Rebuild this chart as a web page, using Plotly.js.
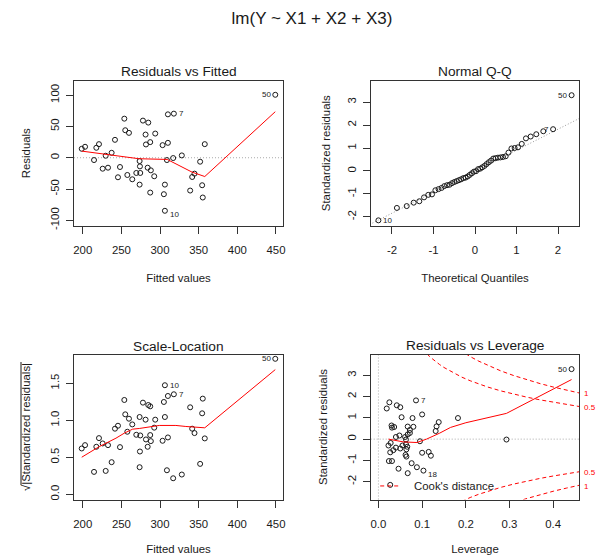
<!DOCTYPE html>
<html><head><meta charset="utf-8">
<script src="https://cdn.plot.ly/plotly-3.0.1.min.js"></script>
<style>html,body{margin:0;padding:0;background:#fff;}#chart{width:597px;height:558px;}</style>
</head><body><div id="chart"></div>
<script>
// ---- Residuals vs Fitted / Scale-Location (same fitted values) ----
const fittedValues = [198.7,203.0,214.6,217.6,221.0,225.8,229.7,232.7,237.4,241.7,245.6,248.2,253.8,255.0,257.7,259.8,264.1,269.3,273.6,274.0,274.4,273.6,277.9,281.3,281.8,284.8,284.0,287.3,288.1,287.3,292.5,293.8,303.3,306.3,305.0,306.3,308.9,310.2,310.2,317.0,317.9,328.2,339.0,341.6,344.6,351.9,354.5,355.3,357.9,449.1];
const residuals = [14.3,17.5,-3.7,15.9,21.7,-17.5,3.2,-15.9,7.9,28.6,-31.2,-14.8,62.4,43.9,-27.5,39.7,-34.4,-24.3,-5.3,-13.8,-24.3,-42.9,59.3,37.0,21.2,56.1,-15.9,24.9,-20.1,-55.6,-29.6,38.6,20.1,-42.9,-58.2,-84.7,-3.7,23.8,69.3,-0.5,70.4,3.7,-52.4,-30.7,-25.4,-6.3,-43.9,-63.5,21.7,100.5];
const sqrtAbsStdResiduals = [0.619,0.664,0.303,0.642,0.759,0.687,0.316,0.664,0.434,0.886,0.926,0.637,1.274,1.080,0.845,1.021,0.944,0.804,0.366,0.578,0.795,1.044,1.238,1.008,0.741,1.206,0.642,0.800,0.718,1.188,0.900,1.008,0.723,1.044,1.247,1.473,0.325,0.768,1.328,0.217,1.351,0.267,1.175,0.886,0.827,0.411,1.094,1.292,0.755,1.830];
const smoothFittedX = [198.7,229.7,251.2,272.7,309.3,341.5,357.9,449.1];
const smoothResidY = [10.6,5.3,1.0,-1.6,-2.7,-23.0,-30.0,73.5];
const smoothScaleX = [198.7,221.5,243.0,253.8,264.6,273.2,299.0,320.5,333.4,357.9,449.1];
const smoothScaleY = [0.501,0.645,0.758,0.826,0.880,0.889,0.930,0.930,0.916,0.898,1.684];

// ---- Normal Q-Q ----
const theoreticalQuantiles = [-2.326,-1.881,-1.645,-1.476,-1.341,-1.227,-1.126,-1.036,-0.954,-0.878,-0.806,-0.739,-0.674,-0.613,-0.553,-0.496,-0.440,-0.385,-0.332,-0.279,-0.228,-0.176,-0.126,-0.075,-0.025,0.025,0.075,0.126,0.176,0.228,0.279,0.332,0.385,0.440,0.496,0.553,0.613,0.674,0.739,0.806,0.878,0.954,1.036,1.126,1.227,1.341,1.476,1.645,1.881,2.326];
const qqStdResiduals = [-2.15,-1.61,-1.53,-1.38,-1.32,-1.15,-1.04,-1.02,-0.84,-0.79,-0.74,-0.66,-0.62,-0.60,-0.53,-0.48,-0.44,-0.40,-0.36,-0.31,-0.29,-0.24,-0.17,-0.10,-0.03,-0.01,0.08,0.10,0.16,0.22,0.30,0.38,0.45,0.54,0.56,0.58,0.59,0.61,0.64,0.80,0.98,1.00,1.03,1.18,1.42,1.50,1.60,1.73,1.82,3.30];
const qqLineX = [-2.6,2.6];
const qqLineY = [-2.389,2.369];

// ---- Residuals vs Leverage ----
const leverage = [0.019,0.025,0.042,0.050,0.086,0.053,0.100,0.030,0.031,0.036,0.067,0.080,0.072,0.072,0.048,0.040,0.061,0.063,0.095,0.028,0.023,0.055,0.063,0.040,0.034,0.050,0.064,0.027,0.062,0.064,0.100,0.115,0.120,0.024,0.031,0.076,0.088,0.046,0.067,0.103,0.027,0.131,0.133,0.138,0.182,0.293,0.442,0.078,0.066,0.067];
const levStdResiduals = [1.44,1.73,1.59,1.50,1.82,1.03,1.16,0.64,0.54,0.57,0.59,0.58,0.43,0.29,0.17,0.10,0.10,-0.02,-0.10,-0.18,-0.30,-0.30,-0.24,-0.40,-0.52,-0.44,-0.48,-0.62,-0.74,-0.82,-0.64,-0.60,-0.78,-1.03,-1.03,-1.13,-1.32,-1.39,-1.60,-1.48,-2.15,0.38,0.60,0.80,0.99,-0.02,3.29,0.99,-0.36,0.22];
const smoothLevX = [0.023,0.057,0.088,0.110,0.140,0.165,0.200,0.293,0.442];
const smoothLevY = [0.00,-0.13,-0.16,0.00,0.28,0.55,0.77,1.21,2.80];
const cookH = [0.09,0.10,0.11,0.12,0.13,0.14,0.15,0.17,0.19,0.21,0.23,0.25,0.28,0.31,0.34,0.37,0.40,0.43,0.46];
const cook05Upper = [4.50,4.243,4.023,3.830,3.659,3.505,3.367,3.125,2.920,2.743,2.588,2.449,2.268,2.110,1.970,1.845,1.732,1.628,1.532];
const cook05Lower = [-4.50,-4.243,-4.023,-3.830,-3.659,-3.505,-3.367,-3.125,-2.920,-2.743,-2.588,-2.449,-2.268,-2.110,-1.970,-1.845,-1.732,-1.628,-1.532];
const cook1Upper = [6.364,6.0,5.689,5.416,5.175,4.957,4.761,4.419,4.129,3.879,3.660,3.464,3.207,2.984,2.787,2.609,2.449,2.302,2.167];
const cook1Lower = [-6.364,-6.0,-5.689,-5.416,-5.175,-4.957,-4.761,-4.419,-4.129,-3.879,-3.660,-3.464,-3.207,-2.984,-2.787,-2.609,-2.449,-2.302,-2.167];

// ---- Tick labels ----
const fittedTicks = [200,250,300,350,400,450];
const fittedTickText = ['200','250','300','350','400','450'];
const residTicks = [-100,-50,0,50,100];
const residTickText = ['-100','-50','0','50','100'];
const qqXTicks = [-2,-1,0,1,2];
const qqXTickText = ['-2','-1','0','1','2'];
const stdTicks = [-2,-1,0,1,2,3];
const stdTickText = ['-2','-1','0','1','2','3'];
const scaleTicks = [0,0.5,1,1.5];
const scaleTickText = ['0.0','0.5','1.0','1.5'];
const levTicks = [0,0.1,0.2,0.3,0.4];
const levTickText = ['0.0','0.1','0.2','0.3','0.4'];

const F = 'Liberation Sans, Arial, Helvetica, sans-serif';
const RED = '#ff0000';
const INK = '#1a1a1a';

function pts(x, y, xa, ya) {
  return {type:'scatter', mode:'markers', x:x, y:y, xaxis:xa, yaxis:ya,
    marker:{symbol:'circle-open', size:5, color:INK, line:{width:1, color:INK}},
    hoverinfo:'skip', showlegend:false};
}
function ln(x, y, xa, ya, color, dash) {
  return {type:'scatter', mode:'lines', x:x, y:y, xaxis:xa, yaxis:ya,
    line:{color:color, width:1, dash:dash || 'solid'}, hoverinfo:'skip', showlegend:false};
}

const traces = [
  pts(fittedValues, residuals, 'x', 'y'),
  ln(smoothFittedX, smoothResidY, 'x', 'y', RED),
  ln(qqLineX, qqLineY, 'x2', 'y2', '#999', '1px,2px'),
  pts(theoreticalQuantiles, qqStdResiduals, 'x2', 'y2'),
  pts(fittedValues, sqrtAbsStdResiduals, 'x3', 'y3'),
  ln(smoothScaleX, smoothScaleY, 'x3', 'y3', RED),
  ln(cookH, cook05Upper, 'x4', 'y4', RED, '4px,3px'),
  ln(cookH, cook1Upper, 'x4', 'y4', RED, '4px,3px'),
  ln(cookH, cook05Lower, 'x4', 'y4', RED, '4px,3px'),
  ln(cookH, cook1Lower, 'x4', 'y4', RED, '4px,3px'),
  pts(leverage, levStdResiduals, 'x4', 'y4'),
  ln(smoothLevX, smoothLevY, 'x4', 'y4', RED)
];

const xL = [74/597, 283/597], xR = [370.7/597, 579.3/597];
const yT = [1-225.7/558, 1-80.7/558], yB = [1-499.5/558, 1-354.5/558];

function ax(extra) {
  return Object.assign({showline:true, mirror:true, linecolor:'#333', linewidth:1,
    ticks:'outside', ticklen:7, tickcolor:'#333', tickwidth:1, showgrid:false, zeroline:false,
    tickfont:{family:F, size:11.4, color:INK}, fixedrange:true, automargin:false, tickmode:'array'}, extra);
}
function xt(t, s) { return {text:t, font:{family:F, size:11.4, color:INK}, standoff:s}; }

const layout = {
  width:597, height:558, margin:{l:0, r:0, t:0, b:0, pad:0},
  paper_bgcolor:'#fff', plot_bgcolor:'#fff', showlegend:false,
  font:{family:F, color:INK},
  title:{text:'lm(Y ~ X1 + X2 + X3)', x:312/597, xanchor:'center', xref:'paper', y:1-18/558, yanchor:'middle', yref:'container', font:{family:F, size:17, color:INK}},
  xaxis: ax({domain:xL, anchor:'y', range:[188.7,459.1], tickvals:fittedTicks, ticktext:fittedTickText, ticklabelstandoff:7, title:xt('Fitted values', 18)}),
  yaxis: ax({domain:yT, anchor:'x', range:[-108.5,123], tickvals:residTicks, ticktext:residTickText, tickangle:-90, ticklabelstandoff:2, title:xt('Residuals', 16)}),
  xaxis2: ax({domain:xR, anchor:'y2', range:[-2.512,2.512], tickvals:qqXTicks, ticktext:qqXTickText, ticklabelstandoff:7, title:xt('Theoretical Quantiles', 18)}),
  yaxis2: ax({domain:yT, anchor:'x2', range:[-2.384,3.932], tickvals:stdTicks, ticktext:stdTickText, tickangle:-90, ticklabelstandoff:2, title:xt('Standardized residuals', 13)}),
  xaxis3: ax({domain:xL, anchor:'y3', range:[188.7,459.1], tickvals:fittedTicks, ticktext:fittedTickText, ticklabelstandoff:7, title:xt('Fitted values', 15)}),
  yaxis3: ax({domain:yB, anchor:'x3', range:[-0.07,1.888], tickvals:scaleTicks, ticktext:scaleTickText, tickangle:-90, ticklabelstandoff:2, title:xt('√|Standardized residuals|', 16)}),
  xaxis4: ax({domain:xR, anchor:'y4', range:[-0.0177,0.4597], tickvals:levTicks, ticktext:levTickText, ticklabelstandoff:7, title:xt('Leverage', 15)}),
  yaxis4: ax({domain:yB, anchor:'x4', range:[-2.837,3.977], tickvals:stdTicks, ticktext:stdTickText, tickangle:-90, ticklabelstandoff:2, title:xt('Standardized residuals', 16)}),
  shapes: [
    {type:'line', xref:'x domain', x0:0, x1:1, yref:'y', y0:0, y1:0, line:{color:'#aaa', width:1, dash:'1px,2px'}, layer:'below'},
    {type:'line', xref:'x4 domain', x0:0, x1:1, yref:'y4', y0:0, y1:0, line:{color:'#aaa', width:1, dash:'1px,2px'}, layer:'below'},
    {type:'line', xref:'x4', x0:0, x1:0, yref:'y4 domain', y0:0, y1:1, line:{color:'#aaa', width:1, dash:'1px,2px'}, layer:'below'},
    {type:'line', xref:'x4', x0:0.004, x1:0.0495, yref:'y4', y0:-2.2, y1:-2.2, line:{color:RED, width:1, dash:'4px,3px'}},
    // overline of the square-root sign in the Scale-Location y title
    {type:'line', xref:'paper', x0:21/597, x1:21/597, yref:'paper', y0:1-485/558, y1:1-362/558, line:{color:INK, width:1}}
  ],
  annotations: []
};

function panelTitle(text, xd, ypx) {
  return {text:text, xref:'paper', yref:'paper', x:(xd[0]+xd[1])/2, y:1-ypx/558, xanchor:'center', yanchor:'middle', showarrow:false, font:{family:F, size:13.7, color:INK}};
}
layout.annotations.push(panelTitle('Residuals vs Fitted', xL, 71));
layout.annotations.push(panelTitle('Normal Q-Q', xR, 71));
layout.annotations.push(panelTitle('Scale-Location', xL, 346));
layout.annotations.push(panelTitle('Residuals vs Leverage', xR, 345));

function idLabel(text, x, y, xa, ya, side, ys, col, size) {
  return {text:text, xref:xa, yref:ya, x:x, y:y, showarrow:false, borderpad:0,
    xanchor: side === 'left' ? 'right' : 'left', xshift: side === 'left' ? -3.5 : 4,
    yshift: ys || 0, yanchor:'middle', font:{family:F, size:size || 8, color:col || INK}};
}
layout.annotations.push(idLabel('50', 449.1, 100.5, 'x', 'y', 'left'));
layout.annotations.push(idLabel('7', 317.9, 70.4, 'x', 'y', 'right'));
layout.annotations.push(idLabel('10', 306.3, -84.7, 'x', 'y', 'right', -4));
layout.annotations.push(idLabel('50', 2.326, 3.30, 'x2', 'y2', 'left'));
layout.annotations.push(idLabel('7', 1.881, 1.82, 'x2', 'y2', 'left'));
layout.annotations.push(idLabel('10', -2.326, -2.15, 'x2', 'y2', 'right'));
layout.annotations.push(idLabel('50', 449.1, 1.83, 'x3', 'y3', 'left'));
layout.annotations.push(idLabel('10', 306.3, 1.473, 'x3', 'y3', 'right'));
layout.annotations.push(idLabel('7', 317.9, 1.351, 'x3', 'y3', 'right'));
layout.annotations.push(idLabel('50', 0.442, 3.29, 'x4', 'y4', 'left'));
layout.annotations.push(idLabel('7', 0.086, 1.82, 'x4', 'y4', 'right'));
layout.annotations.push(idLabel('18', 0.103, -1.48, 'x4', 'y4', 'right', -4));
// Cook's distance contour labels
layout.annotations.push(idLabel('1', 0.4597, 2.14, 'x4', 'y4', 'right', 0, RED));
layout.annotations.push(idLabel('0.5', 0.4597, 1.475, 'x4', 'y4', 'right', 0, RED));
layout.annotations.push(idLabel('0.5', 0.4597, -1.59, 'x4', 'y4', 'right', 0, RED));
layout.annotations.push(idLabel('1', 0.4597, -2.24, 'x4', 'y4', 'right', 0, RED));
layout.annotations.push({text:"Cook's distance", xref:'x4', yref:'y4', x:0.079, y:-2.2, xanchor:'left', yanchor:'middle', showarrow:false, borderpad:0, font:{family:F, size:11.4, color:INK}});

Plotly.newPlot('chart', traces, layout, {staticPlot:true, displayModeBar:false});
</script></body></html>
